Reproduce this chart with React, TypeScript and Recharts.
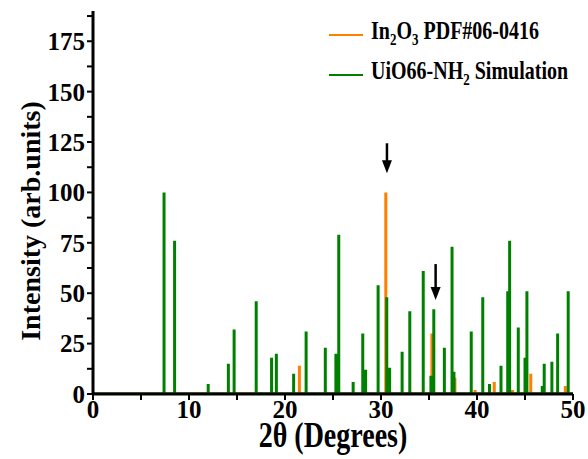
import { ComposedChart, Line, XAxis, YAxis, ReferenceDot, Legend, Label } from 'recharts';

// In2O3 reference pattern (PDF#06-0416)
const in2o3Pos = [17.5, 21.5, 30.5, 35.3, 37.7, 39.8, 41.8, 43.7, 45.6, 49.2];
const in2o3Int = [1, 14, 100, 30, 8, 2, 6, 2, 10, 4];

// UiO66-NH2 simulated pattern
const uioPos = [
  7.4, 8.5, 12.0, 14.1, 14.7, 17.0, 18.6, 19.1, 20.9, 22.2, 24.2, 25.3, 25.6, 27.1, 28.1, 28.4,
  29.7, 30.6, 30.9, 32.2, 33.0, 34.4, 35.2, 35.5, 36.6, 37.4, 37.6, 39.4, 40.6, 41.3, 42.5, 43.2,
  43.4, 44.3, 45.0, 45.2, 46.8, 47.0, 47.8, 48.4, 49.5,
];
const uioInt = [
  100, 76, 5, 15, 32, 46, 18, 20, 10, 31, 23, 20, 79, 6, 30, 12,
  54, 48, 13, 21, 41, 61, 9, 42, 23, 73, 11, 31, 48, 5, 14, 51,
  76, 33, 18, 51, 4, 15, 16, 30, 51,
];

// arrows marking In2O3 peaks (tip position)
const arrowX = [30.62, 35.69];
const arrowTip = [109.5, 46.6];
const arrowLen = [30, 36];

const xTicks = [0, 5, 10, 15, 20, 25, 30, 35, 40, 45, 50];
const yTicks = [0, 12.5, 25, 37.5, 50, 62.5, 75, 87.5, 100, 112.5, 125, 137.5, 150, 162.5, 175, 187.5];

const ORANGE = '#ff7f00';
const GREEN = '#008000';
const FONT = '"Liberation Serif", "Times New Roman", serif';

const sticks = (pos: number[], vals: number[]) => {
  const pts = [{ x: 0, y: 0 }];
  pos.forEach((p, i) => {
    pts.push({ x: p, y: 0 }, { x: p, y: vals[i] }, { x: p, y: 0 });
  });
  pts.push({ x: 50, y: 0 });
  return pts;
};

const in2o3Data = sticks(in2o3Pos, in2o3Int);
const uioData = sticks(uioPos, uioInt);

const tickStyle = { fontFamily: FONT, fontWeight: 'bold', fontSize: 25, fill: '#000' };

const Arrow = (props: any) => {
  const { cx, cy, len } = props;
  return (
    <g>
      <line x1={cx} y1={cy - len} x2={cx} y2={cy - 10} stroke="#000" strokeWidth={2.5} />
      <path d={`M${cx - 5},${cy - 13} L${cx + 5},${cy - 13} L${cx},${cy} Z`} fill="#000" />
    </g>
  );
};

const renderLegend = () => (
  <div style={{ position: 'relative', fontFamily: FONT, fontWeight: 'bold', fontSize: 20, color: '#000' }}>
    {[
      { c: ORANGE, t: <>In<sub style={{ fontSize: 13 }}>2</sub>O<sub style={{ fontSize: 13 }}>3</sub> PDF#06-0416</> },
      { c: GREEN, t: <>UiO66-NH<sub style={{ fontSize: 13 }}>2</sub> Simulation</> },
    ].map((r, i) => (
      <div key={i} style={{ position: 'absolute', left: 0, top: i * 40, whiteSpace: 'nowrap', display: 'flex', alignItems: 'center', height: 24 }}>
        <span style={{ display: 'inline-block', width: 34, borderTop: `2.5px solid ${r.c}`, marginRight: 8 }} />
        <span style={{ display: 'inline-block', lineHeight: '20px', transform: 'scaleY(1.3)' }}>{r.t}</span>
      </div>
    ))}
  </div>
);

export default function App() {
  return (
    <div style={{ position: 'absolute', left: 0, top: 0, background: '#fff' }}>
      <ComposedChart width={588} height={459} margin={{ top: 11, right: 15, bottom: 0, left: 0 }}>
        <XAxis
          dataKey="x"
          type="number"
          domain={[0, 50]}
          ticks={xTicks}
          allowDataOverflow
          height={65}
          tickFormatter={(v: number) => (v % 10 === 0 ? String(v) : '')}
          tick={tickStyle}
          tickSize={6}
          tickMargin={0}
          axisLine={{ stroke: '#000', strokeWidth: 3 }}
          tickLine={{ stroke: '#000', strokeWidth: 2 }}
        >
          <Label
            content={() => (
              <text
                x={0}
                y={0}
                transform="translate(333 447) scale(1 1.25)"
                textAnchor="middle"
                style={{ fontFamily: FONT, fontWeight: 'bold', fontSize: 28 }}
                fill="#000"
              >
                2θ (Degrees)
              </text>
            )}
          />
        </XAxis>
        <XAxis
          xAxisId="top"
          orientation="top"
          type="number"
          domain={[0, 50]}
          ticks={xTicks}
          height={0}
          mirror
          tickFormatter={() => ''}
          tickSize={5}
          axisLine={{ stroke: '#000', strokeWidth: 3 }}
          tickLine={{ stroke: '#000', strokeWidth: 2 }}
        />
        <YAxis
          type="number"
          domain={[0, 190]}
          ticks={yTicks}
          allowDataOverflow
          width={93}
          tickFormatter={(v: number) => (v % 25 === 0 ? String(v) : '')}
          tick={tickStyle}
          tickSize={6}
          tickMargin={2}
          axisLine={{ stroke: '#000', strokeWidth: 3 }}
          tickLine={{ stroke: '#000', strokeWidth: 2 }}
        >
          <Label
            content={() => (
              <text
                x={40}
                y={221}
                transform="rotate(-90 40 221)"
                textAnchor="middle"
                style={{ fontFamily: FONT, fontWeight: 'bold', fontSize: 28 }}
                fill="#000"
              >
                Intensity (arb.units)
              </text>
            )}
          />
        </YAxis>
        <YAxis
          yAxisId="right"
          orientation="right"
          type="number"
          domain={[0, 190]}
          ticks={yTicks}
          width={0}
          mirror
          tickFormatter={() => ''}
          tickSize={5}
          axisLine={{ stroke: '#000', strokeWidth: 3 }}
          tickLine={{ stroke: '#000', strokeWidth: 2 }}
        />
        <Legend
          verticalAlign="top"
          content={renderLegend}
          wrapperStyle={{ left: 329, top: 23, width: 0, height: 0, overflow: 'visible' }}
        />
        <Line
          data={in2o3Data}
          dataKey="y"
          name="In2O3 PDF#06-0416"
          type="linear"
          stroke={ORANGE}
          strokeWidth={3}
          dot={false}
          activeDot={false}
          isAnimationActive={false}
        />
        <Line
          data={uioData}
          dataKey="y"
          name="UiO66-NH2 Simulation"
          type="linear"
          stroke={GREEN}
          strokeWidth={3}
          dot={false}
          activeDot={false}
          isAnimationActive={false}
        />
        {arrowX.map((x, i) => (
          <ReferenceDot
            key={i}
            x={x}
            y={arrowTip[i]}
            r={0}
            ifOverflow="visible"
            shape={(p: any) => <Arrow {...p} len={arrowLen[i]} />}
          />
        ))}
      </ComposedChart>
    </div>
  );
}
